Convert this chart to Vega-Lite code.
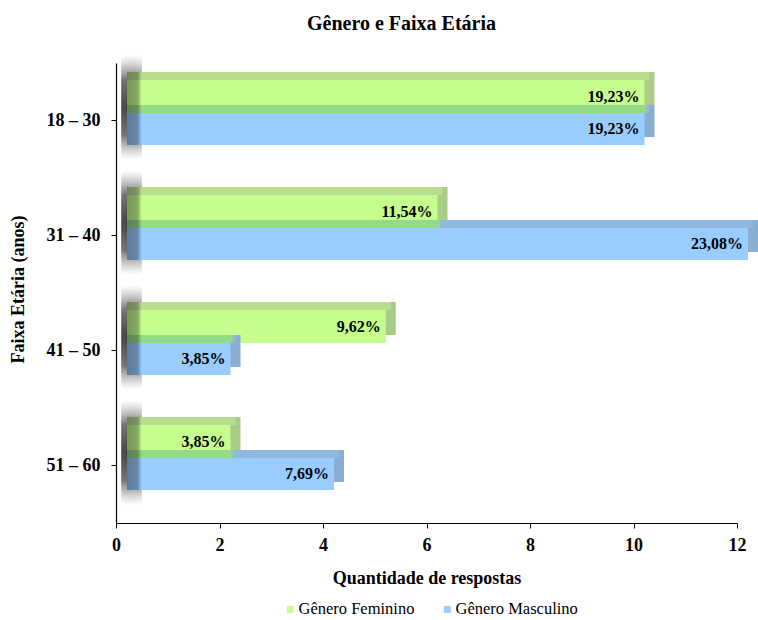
{
  "$schema": "https://vega.github.io/schema/vega-lite/v6.json",
  "width": 621,
  "height": 460,
  "autosize": "none",
  "padding": {"left": 116, "top": 63, "right": 21, "bottom": 97},
  "background": "white",
  "title": {
    "text": "Gênero e Faixa Etária",
    "font": "Liberation Serif",
    "fontSize": 20,
    "fontWeight": "bold",
    "color": "#000",
    "anchor": "middle",
    "frame": "group",
    "dx": -25,
    "offset": 21
  },
  "data": {
    "values": [
      {"age": "18 – 30", "gender": "Gênero Feminino", "count": 10, "label": "19,23%"},
      {"age": "18 – 30", "gender": "Gênero Masculino", "count": 10, "label": "19,23%"},
      {"age": "31 – 40", "gender": "Gênero Feminino", "count": 6, "label": "11,54%"},
      {"age": "31 – 40", "gender": "Gênero Masculino", "count": 12, "label": "23,08%"},
      {"age": "41 – 50", "gender": "Gênero Feminino", "count": 5, "label": "9,62%"},
      {"age": "41 – 50", "gender": "Gênero Masculino", "count": 2, "label": "3,85%"},
      {"age": "51 – 60", "gender": "Gênero Feminino", "count": 2, "label": "3,85%"},
      {"age": "51 – 60", "gender": "Gênero Masculino", "count": 4, "label": "7,69%"}
    ]
  },
  "encoding": {
    "y": {
      "field": "age",
      "type": "nominal",
      "sort": null,
      "scale": {"paddingInner": 0, "paddingOuter": 0},
      "axis": {
        "title": "Faixa Etária (anos)",
        "tickSize": 5,
        "labelPadding": 11,
        "titleX": -98,
        "titleY": 226,
        "titleAngle": -90,
        "titleBaseline": "middle",
        "titleAlign": "center"
      }
    },
    "x": {
      "field": "count",
      "type": "quantitative",
      "scale": {"domain": [0, 12], "nice": false},
      "axis": {
        "title": "Quantidade de respostas",
        "values": [0, 2, 4, 6, 8, 10, 12],
        "tickSize": 5,
        "labelPadding": 8,
        "labelFlush": false,
        "titleY": 55,
        "titleBaseline": "middle"
      }
    }
  },
  "layer": [
    {
      "transform": [{"filter": "datum.gender === 'Gênero Feminino'"}],
      "mark": {
        "type": "bar",
        "height": 105,
        "yOffset": -13,
        "y2Offset": -13,
        "color": {
          "gradient": "radial",
          "x1": 0.5, "y1": 0.5, "r1": 0,
          "x2": 0.5, "y2": 0.5, "r2": 0.5,
          "stops": [
            {"offset": 0, "color": "rgba(40,40,40,0.9)"},
            {"offset": 0.55, "color": "rgba(60,60,60,0.7)"},
            {"offset": 1, "color": "rgba(120,120,120,0)"}
          ]
        }
      },
      "encoding": {
        "x": {"datum": 0.1},
        "x2": {"datum": 0.5}
      }
    },
    {
      "transform": [{"filter": "datum.gender === 'Gênero Feminino'"}],
      "mark": {"type": "bar", "height": 33, "yOffset": -32, "y2Offset": -32, "xOffset": 21, "x2Offset": 21, "color": "#a9cd86"},
      "encoding": {"x2": {"datum": 0}}
    },
    {
      "transform": [{"filter": "datum.gender === 'Gênero Feminino'"}],
      "mark": {"type": "bar", "height": 8, "yOffset": -44.5, "y2Offset": -44.5, "xOffset": 16, "x2Offset": 11, "color": "#b9dc8e"},
      "encoding": {"x2": {"datum": 0}}
    },
    {
      "transform": [{"filter": "datum.gender === 'Gênero Feminino'"}],
      "mark": {"type": "bar", "height": 33, "yOffset": -24, "y2Offset": -24, "xOffset": 11, "x2Offset": 11},
      "encoding": {
        "x2": {"datum": 0},
        "color": {
          "field": "gender",
          "type": "nominal",
          "scale": {"domain": ["Gênero Feminino", "Gênero Masculino"], "range": ["#c6fd8f", "#99ccff"]},
          "legend": {
            "orient": "none",
            "direction": "horizontal",
            "legendX": 166,
            "legendY": 538,
            "title": null,
            "symbolType": "square",
            "symbolSize": 49,
            "symbolStrokeWidth": 0,
            "labelOffset": 0,
            "columnPadding": 24,
            "labelFont": "Liberation Serif",
            "labelFontSize": 16.5,
            "labelFontWeight": "normal",
            "labelColor": "#000",
            "padding": 0
          }
        }
      }
    },
    {
      "transform": [{"filter": "datum.gender === 'Gênero Masculino'"}],
      "mark": {"type": "bar", "height": 32, "yOffset": 0.5, "y2Offset": 0.5, "xOffset": 21, "x2Offset": 21, "color": "#8aaed2"},
      "encoding": {"x2": {"datum": 0}}
    },
    {
      "transform": [{"filter": "datum.gender === 'Gênero Masculino'"}],
      "mark": {"type": "bar", "height": 8, "yOffset": -11.5, "y2Offset": -11.5, "xOffset": 16, "x2Offset": 11, "color": "#8fb8dc"},
      "encoding": {"x2": {"datum": 0}}
    },
    {
      "transform": [
        {"aggregate": [{"op": "min", "field": "count", "as": "mincount"}], "groupby": ["age"]}
      ],
      "mark": {"type": "bar", "height": 8, "yOffset": -11.5, "y2Offset": -11.5, "xOffset": 13, "x2Offset": 11, "color": "#93da89"},
      "encoding": {"x": {"field": "mincount", "type": "quantitative"}, "x2": {"datum": 0}}
    },
    {
      "transform": [{"filter": "datum.gender === 'Gênero Masculino'"}],
      "mark": {"type": "bar", "height": 32, "yOffset": 8.5, "y2Offset": 8.5, "xOffset": 11, "x2Offset": 11},
      "encoding": {
        "x2": {"datum": 0},
        "color": {"field": "gender", "type": "nominal"}
      }
    },
    {
      "transform": [{"filter": "datum.gender === 'Gênero Feminino'"}],
      "mark": {
        "type": "bar",
        "height": 73,
        "yOffset": -12,
        "y2Offset": -12,
        "xOffset": 11,
        "x2Offset": 11,
        "color": {
          "gradient": "linear",
          "x1": 0, "y1": 0, "x2": 1, "y2": 0,
          "stops": [
            {"offset": 0, "color": "rgba(0,0,0,0.4)"},
            {"offset": 0.75, "color": "rgba(0,0,0,0.33)"},
            {"offset": 1, "color": "rgba(0,0,0,0.08)"}
          ]
        }
      },
      "encoding": {
        "x": {"datum": 0.27},
        "x2": {"datum": 0}
      }
    },
    {
      "transform": [{"filter": "datum.gender === 'Gênero Feminino'"}],
      "mark": {"type": "text", "align": "right", "baseline": "middle", "dx": 6, "yOffset": -24, "font": "Liberation Serif", "fontSize": 16, "fontWeight": "bold", "color": "#000"},
      "encoding": {"text": {"field": "label"}}
    },
    {
      "transform": [{"filter": "datum.gender === 'Gênero Masculino'"}],
      "mark": {"type": "text", "align": "right", "baseline": "middle", "dx": 6, "yOffset": 8.5, "font": "Liberation Serif", "fontSize": 16, "fontWeight": "bold", "color": "#000"},
      "encoding": {"text": {"field": "label"}}
    }
  ],
  "config": {
    "view": {"stroke": null},
    "axis": {
      "grid": false,
      "domainColor": "#000",
      "domainWidth": 1.2,
      "tickColor": "#000",
      "labelFont": "Liberation Serif",
      "labelFontSize": 18,
      "labelFontWeight": "bold",
      "labelColor": "#000",
      "titleFont": "Liberation Serif",
      "titleFontSize": 18,
      "titleFontWeight": "bold",
      "titleColor": "#000"
    }
  }
}
